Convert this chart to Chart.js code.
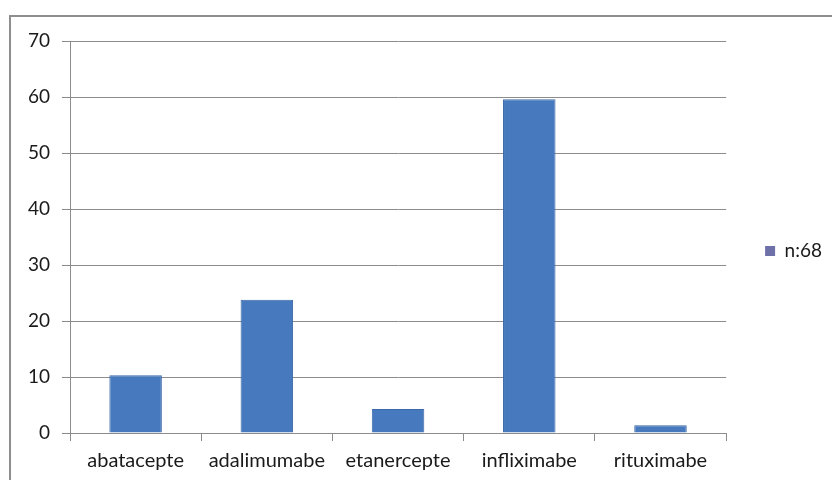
<!DOCTYPE html>
<html>
<head>
<meta charset="utf-8">
<script src="https://cdn.jsdelivr.net/npm/chart.js@4/dist/chart.umd.min.js"></script>
<style>
  html, body { margin: 0; padding: 0; background: #fff; overflow: hidden; width: 832px; height: 480px; }
  #frame { position: absolute; left: 9px; top: 15px; width: 900px; height: 600px;
           border-top: 2px solid #8e8e8e; border-left: 2px solid #8e8e8e; box-sizing: border-box; }
  #wrap { position: absolute; left: 0; top: 0; width: 832px; height: 480px; }
</style>
</head>
<body>
<div id="frame"></div>
<div id="wrap"><canvas id="c" width="832" height="480"></canvas></div>
<script>
// Biologic drugs used (n = 68)
const categories = ['abatacepte', 'adalimumabe', 'etanercepte', 'infliximabe', 'rituximabe'];
const seriesName = 'n:68';
const values = [10.3, 23.8, 4.3, 59.6, 1.4];
const yTicks = [0, 10, 20, 30, 40, 50, 60, 70];

const FAMILY = 'Lato, "Open Sans", sans-serif';
const GRID = '#8c8c8c';

new Chart(document.getElementById('c'), {
  type: 'bar',
  data: {
    labels: categories,
    datasets: [{
      label: seriesName,
      data: values,
      backgroundColor: '#4679bd',
      borderColor: '#3b68a8',
      borderWidth: 1,
      barPercentage: 0.4,
      categoryPercentage: 1
    }]
  },
  options: {
    responsive: false,
    animation: false,
    devicePixelRatio: 1,
    layout: { padding: { top: 22, left: 0, right: 0, bottom: 0 } },
    scales: {
      x: {
        offset: true,
        grid: { display: true, drawOnChartArea: false, drawTicks: true, tickLength: 8, color: GRID, offset: true },
        border: { display: true, color: GRID, width: 1 },
        ticks: { font: { family: FAMILY, size: 20 }, color: '#1a1a1a', padding: 8, maxRotation: 0, autoSkip: false },
        afterFit: s => { s.height = 47; }
      },
      y: {
        min: yTicks[0],
        max: yTicks[yTicks.length - 1],
        afterBuildTicks: s => { s.ticks = yTicks.map(v => ({ value: v })); },
        grid: { color: GRID, tickLength: 8, lineWidth: 1 },
        border: { display: true, color: GRID, width: 1 },
        ticks: { font: { family: FAMILY, size: 19 }, color: '#1a1a1a', padding: 12 },
        afterFit: s => { s.width = 70; }
      }
    },
    plugins: {
      tooltip: { enabled: false },
      // empty title only reserves the gap above the plot area
      title: { display: true, text: '', font: { size: 10, lineHeight: 1 }, padding: { top: 9, bottom: 0 } },
      legend: {
        position: 'right',
        align: 'center',
        maxWidth: 108,
        labels: {
          font: { family: FAMILY, size: 19 },
          color: '#1a1a1a',
          boxWidth: 10,
          boxHeight: 10,
          padding: 39,
          generateLabels: chart => {
            const items = Chart.defaults.plugins.legend.labels.generateLabels(chart);
            items.forEach(it => { it.fillStyle = '#6e70a8'; it.strokeStyle = '#6e70a8'; it.lineWidth = 0; });
            return items;
          }
        }
      }
    }
  }
});
</script>
</body>
</html>
